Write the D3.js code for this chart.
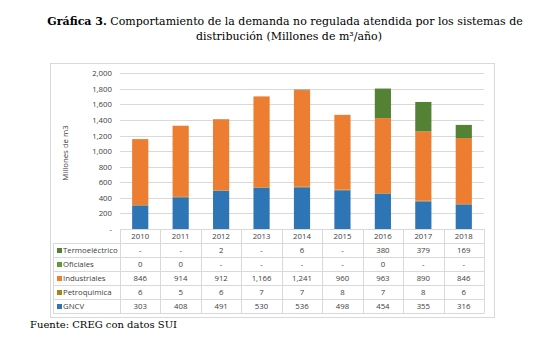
<!DOCTYPE html>
<html>
<head>
<meta charset="UTF-8">
<title></title>
<style>
    body { margin: 0; background: #fff; }
</style>
</head>
<body>
<div id="chart"></div>
<script src="https://cdn.jsdelivr.net/npm/d3@7/dist/d3.min.js"></script>
<script>
    // datos (null = "-")
    var years = ["2010", "2011", "2012", "2013", "2014", "2015", "2016", "2017", "2018"];
    var termo = [null, null, 2, null, 6, null, 380, 379, 169];
    var oficiales = [0, 0, null, null, null, null, 0, null, null];
    var industriales = [846, 914, 912, 1166, 1241, 960, 963, 890, 846];
    var petro = [6, 5, 6, 7, 7, 8, 7, 8, 6];
    var gncv = [303, 408, 491, 530, 536, 498, 454, 355, 316];
    var yTicks = [0, 200, 400, 600, 800, 1000, 1200, 1400, 1600, 1800, 2000];

    window.onload = function () {
        // orden de apilado: de abajo hacia arriba
        var series = [
            {name: "GNCV", values: gncv, color: "#2E75B6"},
            {name: "Petroquimica", values: petro, color: "#A5841C"},
            {name: "Industriales", values: industriales, color: "#ED7D31"},
            {name: "Oficiales", values: oficiales, color: "#5E9C3A"},
            {name: "Termoeléctrico", values: termo, color: "#548235"}
        ];

        var width = 548, height = 342;
        var svg = d3.select("#chart").append("svg")
            .attr("width", width).attr("height", height);

        // titulo
        var title = svg.append("text")
            .attr("x", 285).attr("y", 25)
            .attr("text-anchor", "middle")
            .style("font-family", "DejaVu Serif")
            .style("font-size", "11px")
            .attr("fill", "#000");
        title.append("tspan").style("font-weight", "bold").text("Gráfica 3.");
        title.append("tspan").text(" Comportamiento de la demanda no regulada atendida por los sistemas de");
        svg.append("text")
            .attr("x", 289).attr("y", 40)
            .attr("text-anchor", "middle")
            .style("font-family", "DejaVu Serif")
            .style("font-size", "11px")
            .text("distribución (Millones de m³/año)");

        // marco
        svg.append("rect")
            .attr("x", 50.5).attr("y", 63.5)
            .attr("width", 444).attr("height", 254)
            .attr("fill", "none").attr("stroke", "#d9d9d9");

        var pLeft = 120, pRight = 484, pTop = 73.3, pBottom = 229;
        var x = d3.scaleBand().domain(years).range([pLeft, pRight]).paddingInner(0.6).paddingOuter(0.3);
        var xCol = d3.scaleBand().domain(years).range([pLeft, pRight]);
        var y = d3.scaleLinear().domain([0, 2000]).range([pBottom, pTop]);

        var font = "'Open Sans', sans-serif";
        var fs = "7.8px";

        // rejilla
        svg.append("g").selectAll("line")
            .data(yTicks.slice(1))
            .join("line")
            .attr("x1", pLeft).attr("x2", pRight)
            .attr("y1", function (d) { return Math.round(y(d)) + 0.5; })
            .attr("y2", function (d) { return Math.round(y(d)) + 0.5; })
            .attr("stroke", "#d9d9d9");

        // eje y
        var yAxis = svg.append("g")
            .attr("transform", "translate(" + (pLeft - 8) + ",0)")
            .call(d3.axisLeft(y).tickValues(yTicks).tickSize(0).tickPadding(0)
                .tickFormat(function (d) { return d === 0 ? "-" : d3.format(",")(d); }));
        yAxis.select(".domain").remove();
        yAxis.selectAll("text")
            .style("font-family", font).style("font-size", fs).attr("fill", "#404040");

        svg.append("text")
            .attr("transform", "translate(68,153) rotate(-90)")
            .attr("text-anchor", "middle")
            .style("font-family", font).style("font-size", fs)
            .attr("fill", "#404040")
            .text("Millones de m3");

        // barras apiladas
        var table = years.map(function (yr, i) {
            var row = {year: yr};
            series.forEach(function (s) { row[s.name] = s.values[i] || 0; });
            return row;
        });
        var stack = d3.stack().keys(series.map(function (s) { return s.name; }))(table);

        svg.append("g").selectAll("g")
            .data(stack)
            .join("g")
            .attr("fill", function (d, i) { return series[i].color; })
            .selectAll("rect")
            .data(function (d) { return d; })
            .join("rect")
            .attr("x", function (d) { return x(d.data.year); })
            .attr("width", x.bandwidth())
            .attr("y", function (d) { return y(d[1]); })
            .attr("height", function (d) { return y(d[0]) - y(d[1]); });

        // eje x
        svg.append("line")
            .attr("x1", pLeft).attr("x2", pRight)
            .attr("y1", pBottom + 0.5).attr("y2", pBottom + 0.5)
            .attr("stroke", "#d9d9d9");

        // tabla de datos
        var rowH = 14, headTop = 229, tableTop = 243;
        var rows = series.slice().reverse();
        var grid = svg.append("g").attr("stroke", "#d9d9d9");
        years.forEach(function (yr) {
            grid.append("line")
                .attr("x1", Math.round(xCol(yr)) + 0.5).attr("x2", Math.round(xCol(yr)) + 0.5)
                .attr("y1", headTop).attr("y2", tableTop + rowH * rows.length);
        });
        grid.append("line")
            .attr("x1", pRight + 0.5).attr("x2", pRight + 0.5)
            .attr("y1", headTop).attr("y2", tableTop + rowH * rows.length);
        grid.append("line")
            .attr("x1", 53.5).attr("x2", 53.5)
            .attr("y1", tableTop).attr("y2", tableTop + rowH * rows.length);
        d3.range(rows.length + 1).forEach(function (k) {
            grid.append("line")
                .attr("x1", 53).attr("x2", pRight + 0.5)
                .attr("y1", tableTop + k * rowH + 0.5).attr("y2", tableTop + k * rowH + 0.5);
        });

        // cabecera
        svg.append("g").selectAll("text")
            .data(years)
            .join("text")
            .attr("x", function (d) { return xCol(d) + xCol.bandwidth() / 2; })
            .attr("y", headTop + 10)
            .attr("text-anchor", "middle")
            .style("font-family", font).style("font-size", fs)
            .attr("fill", "#404040")
            .text(function (d) { return d; });

        var fmt = d3.format(",");
        rows.forEach(function (s, k) {
            var ry = tableTop + k * rowH;
            svg.append("rect")
                .attr("x", 57).attr("y", ry + 5)
                .attr("width", 5).attr("height", 5)
                .attr("fill", s.color);
            svg.append("text")
                .attr("x", 63).attr("y", ry + 10)
                .style("font-family", font).style("font-size", fs)
                .attr("fill", "#404040")
                .text(s.name);
            svg.append("g").selectAll("text")
                .data(s.values)
                .join("text")
                .attr("x", function (d, i) { return xCol(years[i]) + xCol.bandwidth() / 2; })
                .attr("y", ry + 10)
                .attr("text-anchor", "middle")
                .style("font-family", font).style("font-size", fs)
                .attr("fill", "#404040")
                .text(function (d) { return d === null ? "-" : fmt(d); });
        });

        // fuente
        svg.append("text")
            .attr("x", 30).attr("y", 328)
            .style("font-family", "DejaVu Serif")
            .style("font-size", "10px")
            .text("Fuente: CREG con datos SUI");
    };
</script>
</body>
</html>
